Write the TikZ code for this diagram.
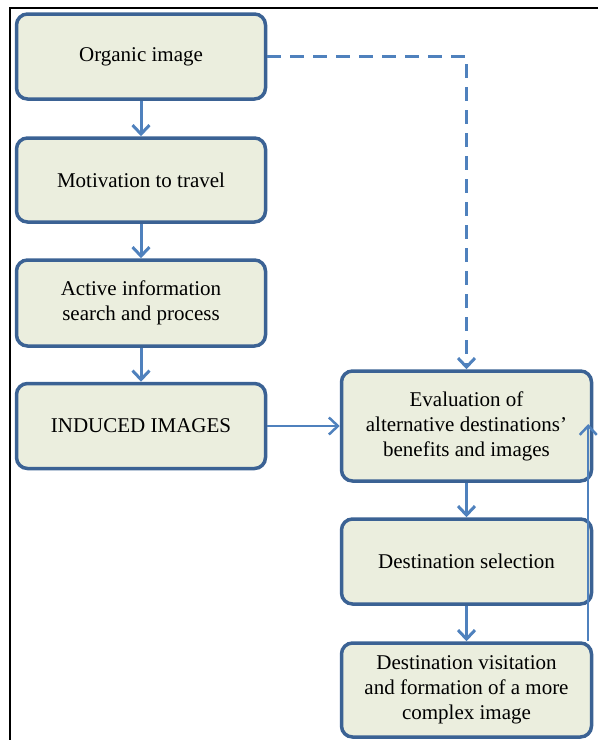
\documentclass[tikz,border=0pt]{standalone}
\usepackage{fontspec}
\setmainfont{Liberation Serif}
\usetikzlibrary{arrows.meta}
\definecolor{boxfill}{HTML}{EBEEDE}
\definecolor{boxline}{HTML}{3B6294}
\definecolor{arrowc}{HTML}{4F81BD}
\tikzset{
  stagebox/.style={draw=boxline, line width=3.5pt, fill=boxfill, rounded corners=11pt,
    minimum width=249pt, align=center, font=\fontsize{21}{25}\selectfont, inner sep=2pt},
  flow/.style={draw=arrowc, line width=3pt, -{Straight Barb[length=9pt,width=17pt,line width=3pt]}},
  thinflow/.style={draw=arrowc, line width=2pt, -{Straight Barb[length=9pt,width=17pt,line width=2.5pt]}},
  dashflow/.style={flow, dash pattern=on 14pt off 9pt},
  frameline/.style={draw=black, line width=2pt}
}
\begin{document}
\begin{tikzpicture}[x=1pt,y=-1pt]
\useasboundingbox (0,0) rectangle (598,740);
\coordinate (ftl) at (10,8);
\coordinate (ftr) at (598,8);
\coordinate (fbl) at (10,740);
\draw[frameline] (ftr) -- (ftl) -- (fbl);

\node[stagebox, minimum height=85pt] (org) at (141,56.5) {Organic image};
\node[stagebox, minimum height=84pt] (mot) at (141,180) {Motivation to travel};
\node[stagebox, minimum height=86pt] (act) at (141,303) {Active information\\search and process};
\node[stagebox, minimum height=85pt] (ind) at (141,426) {INDUCED IMAGES};
\node[stagebox, minimum height=110pt, minimum width=250pt] (eva) at (466.5,426) {Evaluation of\\alternative destinations'\\benefits and images};
\node[stagebox, minimum height=85pt, minimum width=250pt] (sel) at (466.5,561.5) {Destination selection};
\node[stagebox, minimum height=94pt, minimum width=250pt] (vis) at (466.5,690) {Destination visitation\\and formation of a more\\complex image};

\draw[flow] (org) -- (mot);
\draw[flow] (mot) -- (act);
\draw[flow] (act) -- (ind);
\draw[thinflow] (ind) -- (eva);
\draw[flow] (eva) -- (sel);
\draw[flow] (sel) -- (vis);
\draw[dashflow] (org.east) -| (eva.north);
\draw[thinflow] ([xshift=-5pt]vis.north east) -- ([xshift=-5pt,yshift=2pt]eva.east);
\end{tikzpicture}
\end{document}
